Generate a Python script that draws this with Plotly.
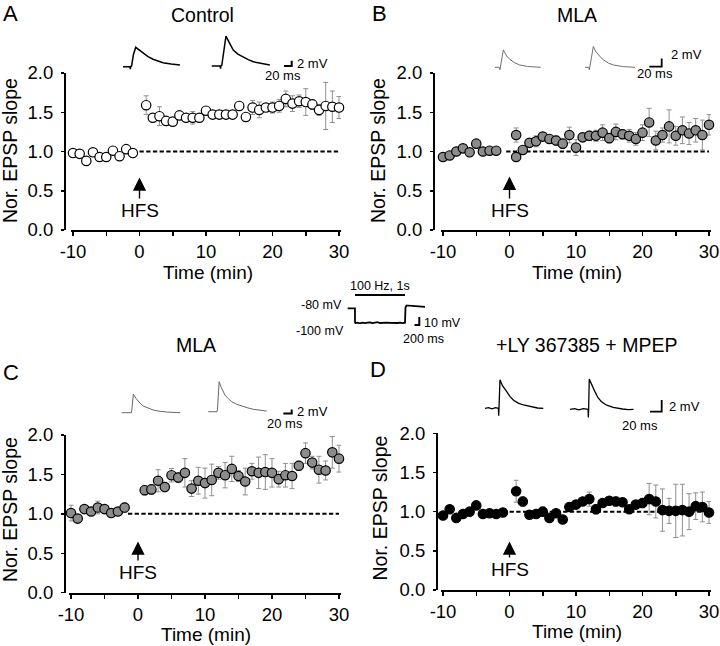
import plotly.graph_objects as go

# ---------------- data ----------------
time_A = [-10, -9, -8, -7, -6, -5, -4, -3, -2, -1,
          1, 2, 3, 4, 5, 6, 7, 8, 9, 10, 11, 12, 13, 14, 15,
          16, 17, 18, 19, 20, 21, 22, 23, 24, 25, 26, 27, 28, 29, 30]
slope_A = [0.98, 0.97, 0.88, 0.99, 0.93, 0.93, 1.01, 0.94, 1.03, 0.98,
           1.59, 1.43, 1.45, 1.39, 1.38, 1.46, 1.43, 1.43, 1.43, 1.52,
           1.47, 1.47, 1.47, 1.47, 1.58, 1.44, 1.56, 1.53, 1.56, 1.56,
           1.58, 1.67, 1.61, 1.64, 1.63, 1.60, 1.53, 1.58, 1.57, 1.56]
sem_A = [0.03, 0.04, 0.05, 0.04, 0.03, 0.04, 0.03, 0.04, 0.03, 0.03,
         0.12, 0.05, 0.12, 0.04, 0.04, 0.05, 0.04, 0.08, 0.04, 0.05,
         0.04, 0.05, 0.04, 0.05, 0.05, 0.04, 0.09, 0.10, 0.05, 0.07,
         0.08, 0.10, 0.10, 0.08, 0.17, 0.06, 0.07, 0.30, 0.20, 0.14]

time_B = [-10, -9, -8, -7, -6, -5, -4, -3, -2,
          1, 1, 2, 3, 4, 5, 6, 7, 8, 9, 10, 11, 12, 13, 14, 15,
          16, 17, 18, 19, 20, 21, 22, 23, 24, 25, 26, 27, 28, 29, 30]
slope_B = [0.93, 0.95, 1.00, 1.04, 0.99, 1.10, 1.00, 1.01, 1.01,
           1.21, 0.93, 1.02, 1.11, 1.13, 1.19, 1.16, 1.14, 1.10, 1.21, 1.05,
           1.18, 1.20, 1.20, 1.24, 1.17, 1.25, 1.22, 1.20, 1.16, 1.24,
           1.37, 1.14, 1.21, 1.32, 1.20, 1.27, 1.23, 1.27, 1.21, 1.34]
sem_B = [0.03, 0.03, 0.03, 0.04, 0.03, 0.04, 0.03, 0.03, 0.03,
         0.09, 0.04, 0.04, 0.05, 0.07, 0.05, 0.05, 0.06, 0.06, 0.10, 0.10,
         0.05, 0.06, 0.07, 0.10, 0.06, 0.10, 0.06, 0.08, 0.08, 0.10,
         0.18, 0.12, 0.09, 0.21, 0.12, 0.17, 0.14, 0.15, 0.19, 0.13]

time_C = [-10, -9, -8, -7, -6, -5, -4, -3, -2,
          1, 2, 3, 4, 5, 6, 7, 8, 9, 10, 11, 12, 13, 14, 15,
          16, 17, 18, 19, 20, 21, 22, 23, 24, 25, 26, 27, 28, 29, 30]
slope_C = [1.01, 0.94, 1.06, 1.03, 1.08, 1.06, 1.01, 1.03, 1.08,
           1.30, 1.31, 1.42, 1.34, 1.49, 1.46, 1.52, 1.32, 1.42, 1.39,
           1.43, 1.52, 1.49, 1.57, 1.48, 1.41, 1.54, 1.52, 1.53, 1.52,
           1.44, 1.49, 1.48, 1.61, 1.77, 1.65, 1.56, 1.55, 1.78, 1.70]
sem_C = [0.10, 0.05, 0.04, 0.05, 0.08, 0.05, 0.04, 0.05, 0.06,
         0.06, 0.06, 0.14, 0.06, 0.085, 0.06, 0.18, 0.10, 0.17, 0.19,
         0.20, 0.08, 0.16, 0.16, 0.07, 0.17, 0.10, 0.20, 0.22, 0.18,
         0.10, 0.15, 0.16, 0.06, 0.13, 0.08, 0.17, 0.12, 0.20, 0.17]

time_D = [-10, -9, -8, -7, -6, -5, -4, -3, -2, -1,
          1, 2, 3, 4, 5, 6, 7, 8, 9, 10, 11, 12, 13, 14, 15,
          16, 17, 18, 19, 20, 21, 22, 23, 24, 25, 26, 27, 28, 29, 30]
slope_D = [0.95, 1.03, 0.92, 0.97, 1.00, 1.08, 0.97, 0.98, 0.97, 0.99,
           1.26, 1.13, 0.96, 0.97, 1.00, 0.92, 0.98, 0.90, 1.06, 1.09,
           1.13, 1.16, 1.03, 1.11, 1.14, 1.13, 1.12, 1.03, 1.09, 1.11,
           1.16, 1.13, 1.02, 1.01, 1.01, 1.02, 1.00, 1.07, 1.06, 0.99]
sem_D = [0.03, 0.04, 0.03, 0.03, 0.03, 0.04, 0.03, 0.03, 0.03, 0.03,
         0.14, 0.06, 0.04, 0.04, 0.06, 0.04, 0.04, 0.04, 0.04, 0.05,
         0.05, 0.09, 0.06, 0.05, 0.05, 0.06, 0.05, 0.04, 0.05, 0.06,
         0.20, 0.21, 0.27, 0.16, 0.34, 0.33, 0.23, 0.17, 0.19, 0.14]

baseline_level = [1.0, 1.0]
refline_A = [0, 30]
refline_B = [-0.5, 30]
refline_C = [-1.5, 30]
refline_D = [-1, 30]

x_tick_vals = [-10, -5, 0, 5, 10, 15, 20, 25, 30]
x_tick_text = ["-10", "", "0", "", "10", "", "20", "", "30"]
y_tick_vals = [0, 0.5, 1.0, 1.5, 2.0]
y_tick_text = ["0.0", "0.5", "1.0", "1.5", "2.0"]

titles = ["Control", "MLA", "MLA", "+LY 367385 + MPEP"]
letters = ["A", "B", "C", "D"]

# example EPSP traces (ms, mV)
epsp_A1_t = [0, 18, 19, 20, 22, 27, 33, 40, 52, 65, 78, 104, 125, 148]
epsp_A1_v = [0, 0, -0.9, 0.3, 0, 4.5, 7.3, 6.5, 5.0, 3.8, 2.8, 1.5, 1.0, 0.6]
epsp_A2_t = [0, 22, 23, 24, 26, 32, 37, 44, 50, 56, 68, 82, 95, 108, 130, 151]
epsp_A2_v = [0, 0, -1.0, 0.3, 0, 6.0, 11.3, 9.3, 7.5, 6.0, 4.5, 3.3, 2.4, 1.6, 0.9, 0.4]

epsp_B1_t = [0, 7, 8, 9, 10, 13.5, 16, 19, 24, 32, 40, 53, 74]
epsp_B1_v = [0, 0, -0.6, 0.3, 0.3, 4.2, 3.5, 2.7, 1.9, 1.1, 0.56, 0.2, 0]
epsp_B2_t = [0, 6, 7, 8, 9, 13.5, 17, 21.6, 26, 30, 38, 46, 62, 81]
epsp_B2_v = [0, 0, -0.6, 0.3, 0.3, 5.0, 3.9, 3.0, 2.3, 1.8, 1.0, 0.56, 0.16, 0]

epsp_C1_t = [0, 23, 24, 28, 34, 40, 46, 52, 64, 76, 92, 108, 140]
epsp_C1_v = [0, 0, 1.0, 9.3, 7.2, 5.5, 4.3, 3.3, 2.1, 1.3, 0.7, 0.33, 0]
epsp_C2_t = [0, 21, 22, 26, 31, 36, 40, 48, 56, 68, 80, 95, 108, 125, 140]
epsp_C2_v = [0, 0, 1.0, 15.0, 12.2, 9.8, 8.3, 6.5, 5.0, 3.7, 2.8, 1.9, 1.2, 0.7, 0.33]

epsp_D1_t = [0, 6, 12, 18, 23, 23.5, 24, 25.7, 30, 37, 43, 49, 57, 66, 80, 90, 100]
epsp_D1_v = [0, 0.1, -0.1, 0.1, 0, -1.3, 0, 4.9, 3.9, 2.9, 2.0, 1.4, 0.9, 0.57, 0.2, 0.05, 0]
epsp_D2_t = [0, 8, 15, 23, 31, 31.5, 32, 33, 37, 43, 48, 54, 63, 74, 90, 100, 109]
epsp_D2_v = [0, 0.1, -0.1, 0.1, 0, -1.4, 0, 5.2, 4.2, 3.0, 2.0, 1.3, 0.7, 0.34, 0.05, -0.05, 0]

scale_mV = 2
scale_ms = 20

# hyperpolarisation protocol inset (ms, mV)
hyp_t = [-150, -1, 0, 10, 50, 100, 150, 200, 250, 300, 350, 400, 450, 500, 550,
         600, 650, 700, 750, 800, 850, 900, 950, 1000, 1010, 1030, 1100, 1200, 1300, 1400]
hyp_v = [-80, -80, -99, -100.6, -100, -100.8, -99.8, -100.5, -100, -99.5, -100.6,
         -100, -99.3, -100.4, -100, -100.6, -99.8, -100.3, -100.6, -100, -100.4,
         -99.9, -100.5, -100, -79, -76, -76.5, -77, -77.5, -78]

# ---------------- layout helpers ----------------
W, H = 720, 646
FONT = "Liberation Sans, Arial, Helvetica, sans-serif"


def PX(x):
    return x / W


def PY(y):
    return 1 - y / H


fig = go.Figure()
layout = dict(width=W, height=H,
              margin=dict(l=0, r=0, t=0, b=0, pad=0, autoexpand=False),
              paper_bgcolor="white", plot_bgcolor="rgba(0,0,0,0)",
              showlegend=False, font=dict(family=FONT, color="black"))
annotations = []
shapes = []

panels = [
    dict(series=(time_A, slope_A, sem_A), ref=refline_A, fill="white",
         xm10=73, x30=339, ytop=73, ybot=230, yax=65,
         title=(202.5, 15), letter=(10.5, 13), ylab=(10, 151), xlab=(208, 272.5),
         hfs_tip=0.67, hfs_off=33),
    dict(series=(time_B, slope_B, sem_B), ref=refline_B, fill="#8c8c8c",
         xm10=443, x30=709, ytop=73, ybot=230, yax=434,
         title=(576.7, 15), letter=(379, 13), ylab=(378, 151), xlab=(577, 272.5),
         hfs_tip=0.68, hfs_off=34),
    dict(series=(time_C, slope_C, sem_C), ref=refline_C, fill="#8c8c8c",
         xm10=71, x30=339, ytop=435, ybot=592.7, yax=65,
         title=(195.7, 345), letter=(10.5, 372), ylab=(10, 510), xlab=(205.5, 634),
         hfs_tip=0.65, hfs_off=31),
    dict(series=(time_D, slope_D, sem_D), ref=refline_D, fill="black",
         xm10=443, x30=709, ytop=433.3, ybot=590, yax=437,
         title=(586.7, 345), letter=(377.5, 370), ylab=(379, 508.5), xlab=(577, 631.5),
         hfs_tip=0.62, hfs_off=28),
]

for i, p in enumerate(panels, start=1):
    sfx = "" if i == 1 else str(i)
    k = (p["x30"] - p["xm10"]) / 40.0
    layout["xaxis" + sfx] = dict(
        domain=[PX(p["xm10"] - 0.3 * k), PX(p["x30"] + 0.3 * k)],
        range=[-10.3, 30.3], anchor="y" + sfx, automargin=False,
        showline=True, linewidth=2, linecolor="black", mirror=False,
        ticks="outside", ticklen=4, tickwidth=1.5, tickcolor="black",
        tickvals=x_tick_vals, ticktext=x_tick_text,
        tickfont=dict(size=18.5, family=FONT, color="black"),
        showgrid=False, zeroline=False)
    layout["yaxis" + sfx] = dict(
        domain=[PY(p["ybot"]), PY(p["ytop"])], range=[0, 2],
        anchor="free", position=PX(p["yax"]), automargin=False,
        showline=True, linewidth=2, linecolor="black",
        ticks="outside", ticklen=3, tickwidth=1.5, tickcolor="black",
        tickvals=y_tick_vals, ticktext=y_tick_text,
        tickfont=dict(size=18.5, family=FONT, color="black"),
        ticklabelstandoff=4, showgrid=False, zeroline=False)

    tx, ty, te = p["series"]
    fig.add_trace(go.Scatter(x=p["ref"], y=baseline_level, mode="lines",
                             line=dict(color="black", width=2, dash="4.3px,2.4px"),
                             xaxis="x" + sfx, yaxis="y" + sfx, hoverinfo="skip"))
    fig.add_trace(go.Scatter(x=tx, y=ty, mode="markers",
                             marker=dict(size=9.4, color=p["fill"],
                                         line=dict(color="black", width=1.2)),
                             error_y=dict(type="data", array=te, symmetric=True,
                                          color="#8f8f8f", thickness=1, width=2.5),
                             cliponaxis=False,
                             xaxis="x" + sfx, yaxis="y" + sfx))

    # HFS arrow
    annotations.append(dict(x=0, y=p["hfs_tip"], xref="x" + sfx, yref="y" + sfx,
                            text="HFS", showarrow=True, arrowhead=2, arrowsize=1.9,
                            arrowwidth=1.4, arrowcolor="black", ax=0, ay=p["hfs_off"],
                            font=dict(size=19, family=FONT, color="black")))
    # titles / labels
    annotations.append(dict(x=PX(p["title"][0]), y=PY(p["title"][1]), xref="paper",
                            yref="paper", text=titles[i - 1], showarrow=False,
                            xanchor="center", yanchor="middle",
                            font=dict(size=19.5, family=FONT, color="black")))
    annotations.append(dict(x=PX(p["letter"][0]), y=PY(p["letter"][1]), xref="paper",
                            yref="paper", text=letters[i - 1], showarrow=False,
                            xanchor="center", yanchor="middle",
                            font=dict(size=22, family=FONT, color="black")))
    annotations.append(dict(x=PX(p["ylab"][0]), y=PY(p["ylab"][1]), xref="paper",
                            yref="paper", text="Nor. EPSP slope", textangle=-90,
                            showarrow=False, xanchor="center", yanchor="middle",
                            font=dict(size=19.5, family=FONT, color="black")))
    annotations.append(dict(x=PX(p["xlab"][0]), y=PY(p["xlab"][1]), xref="paper",
                            yref="paper", text="Time (min)", showarrow=False,
                            xanchor="center", yanchor="middle",
                            font=dict(size=19, family=FONT, color="black")))

# ---------------- inset traces ----------------
inset_idx = [5]


def add_inset(t, v, start_px, base_py, kx, ky, color, width, v0=0.0):
    n = inset_idx[0]
    inset_idx[0] += 1
    t0 = t[0]
    rmin, rmax = min(t) - 4, max(t) + 4
    vmin, vmax = min(v) - 1.5, max(v) + 1.5
    xd = [PX(start_px + kx * (rmin - t0)), PX(start_px + kx * (rmax - t0))]
    ybot = base_py - ky * (vmin - v0)
    ytop = base_py - ky * (vmax - v0)
    yd = [PY(ybot), PY(ytop)]
    fig.add_trace(go.Scatter(x=t, y=v, mode="lines",
                             line=dict(color=color, width=width),
                             xaxis="x%d" % n, yaxis="y%d" % n, hoverinfo="skip"))
    layout["xaxis%d" % n] = dict(domain=xd, range=[rmin, rmax], visible=False,
                                 anchor="y%d" % n, fixedrange=True, automargin=False)
    layout["yaxis%d" % n] = dict(domain=yd, range=[vmin, vmax], visible=False,
                                 anchor="x%d" % n, fixedrange=True, automargin=False)


def scale_bar(cx, cy, kx, ky, lab_v, lab_h, width=2):
    hl = kx * scale_ms
    vl = ky * scale_mV
    shapes.append(dict(type="path", xref="paper", yref="paper",
                       path="M %f %f L %f %f L %f %f" % (PX(cx - hl), PY(cy), PX(cx), PY(cy),
                                                         PX(cx), PY(cy - vl)),
                       line=dict(color="black", width=width)))
    annotations.append(dict(x=PX(lab_v[0]), y=PY(lab_v[1]), xref="paper", yref="paper",
                            text="%d mV" % scale_mV, showarrow=False, xanchor="left",
                            yanchor="middle", font=dict(size=13, family=FONT, color="black")))
    annotations.append(dict(x=PX(lab_h[0]), y=PY(lab_h[1]), xref="paper", yref="paper",
                            text="%d ms" % scale_ms, showarrow=False, xanchor="center",
                            yanchor="middle", font=dict(size=13, family=FONT, color="black")))


# Panel A
add_inset(epsp_A1_t, epsp_A1_v, 123, 66.7, 0.385, 2.65, "black", 1.5)
add_inset(epsp_A2_t, epsp_A2_v, 211.7, 66.0, 0.385, 2.65, "black", 1.5)
scale_bar(291.7, 66.0, 0.385, 2.65, (295, 63), (283, 75.5))
# Panel B
add_inset(epsp_B1_t, epsp_B1_v, 495, 67.3, 0.617, 4.15, "#707070", 1.0)
add_inset(epsp_B2_t, epsp_B2_v, 585, 67.3, 0.617, 4.15, "#707070", 1.0)
scale_bar(661.7, 66.7, 0.617, 4.15, (669, 55), (655, 73.3), width=1.8)
# Panel C
add_inset(epsp_C1_t, epsp_C1_v, 121.7, 412.7, 0.417, 2.0, "#666666", 1.0)
add_inset(epsp_C2_t, epsp_C2_v, 208.3, 411.7, 0.417, 2.0, "#666666", 1.0)
scale_bar(291.7, 413.5, 0.417, 2.0, (295, 411.5), (285, 423))
# Panel D
add_inset(epsp_D1_t, epsp_D1_v, 485, 408.3, 0.583, 5.8, "black", 1.3)
add_inset(epsp_D2_t, epsp_D2_v, 570, 409.3, 0.583, 5.8, "black", 1.3)
scale_bar(661.7, 411.7, 0.583, 5.8, (666.7, 406), (640, 425), width=1.8)

# Middle protocol inset
hyp_kx, hyp_ky = 0.05, 0.72
add_inset(hyp_t, hyp_v, 355 - 150 * hyp_kx, 308.3, hyp_kx, hyp_ky, "black", 1.8, v0=-80.0)
shapes.append(dict(type="line", xref="paper", yref="paper",
                   x0=PX(355), x1=PX(355 + 1000 * hyp_kx), y0=PY(295), y1=PY(295),
                   line=dict(color="black", width=2)))
shapes.append(dict(type="path", xref="paper", yref="paper",
                   path="M %f %f L %f %f L %f %f" % (PX(414.5), PY(325), PX(419.3), PY(325),
                                                     PX(419.3), PY(317)),
                   line=dict(color="black", width=2)))
small_texts = [
    ("100 Hz, 1s", 380, 285.5, "center"),
    ("-80 mV", 343.5, 305, "right"),
    ("-100 mV", 346, 330.7, "right"),
    ("10 mV", 421.5, 322.7, "left"),
    ("200 ms", 423, 339, "center"),
]
for txt, x, y, anc in small_texts:
    annotations.append(dict(x=PX(x), y=PY(y), xref="paper", yref="paper", text=txt,
                            showarrow=False, xanchor=anc, yanchor="middle",
                            font=dict(size=12.5, family=FONT, color="black")))

layout["annotations"] = annotations
layout["shapes"] = shapes
fig.update_layout(**layout)
fig.write_html("out.html",
               config={"displayModeBar": False, "staticPlot": True},
               post_script="document.body.style.margin='0px';"
                           "document.body.style.overflow='hidden';")
